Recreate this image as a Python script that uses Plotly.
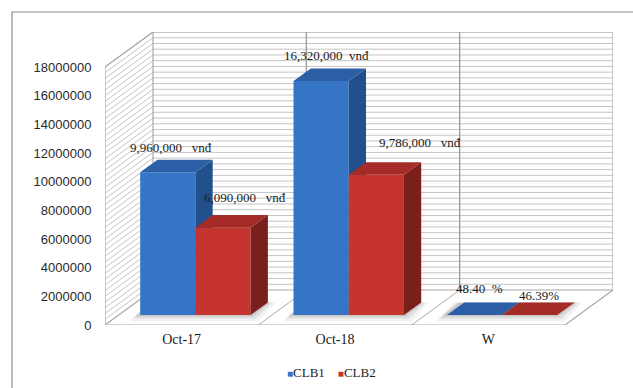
import plotly.graph_objects as go

# ---- data -------------------------------------------------------------
categories = ["Oct-17", "Oct-18", "W"]
series_names = ["CLB1", "CLB2"]
clb1 = [9960000, 16320000, 48.40]
clb2 = [6090000, 9786000, 46.39]
clb1_labels = ["9,960,000   vnđ", "16,320,000  vnđ", "48.40  %"]
clb2_labels = ["6,090,000   vnđ", "9,786,000   vnđ", "46.39%"]
y_tick_values = [0, 2000000, 4000000, 6000000, 8000000, 10000000,
                 12000000, 14000000, 16000000, 18000000]

# ---- 3-D box geometry (category units on x, value units on y) ---------
Y_TOP = 18000000
DX = 0.313            # depth offset of back wall, x
DY = 2.44e6           # depth offset of back wall, y
BAR_D0 = 0.286        # depth at which bar fronts sit
BAR_DEPTH = 0.36      # bar depth as a fraction of the box depth
BAR_W = 0.36
GRID_STEP = 400000
X0, X1 = -0.5, 2.5 + DX

# styles
BLUE = dict(front="#3674c6", side="#22508c", top="#2c5fa6")
RED = dict(front="#c5342f", side="#7a1f1c", top="#a52b27")
WALL_GRID = "#c4c4c4"
EDGE = "#a8a8a8"
LABEL_FONT = dict(family="Liberation Serif", size=13, color="#1a1a1a")
# label offsets (px) relative to the top-front centre of each bar
clb1_shift = [(3, 15), (5, 16), (5, 17)]
clb2_shift = [(22, 21), (44, 23), (9, 10)]

fig = go.Figure()

def add_poly(xs, ys, color, xa="x", ya="y", width=0, lcolor=None):
    fig.add_trace(go.Scatter(
        x=xs, y=ys, mode="lines", fill="toself", fillcolor=color,
        line=dict(width=width, color=lcolor or color),
        xaxis=xa, yaxis=ya, hoverinfo="skip", showlegend=False))

def add_lines(segs, color, width=1, xa="x", ya="y"):
    xs, ys = [], []
    for (xa0, ya0), (xa1, ya1) in segs:
        xs += [xa0, xa1, None]
        ys += [ya0, ya1, None]
    fig.add_trace(go.Scatter(
        x=xs, y=ys, mode="lines", line=dict(color=color, width=width),
        xaxis=xa, yaxis=ya, hoverinfo="skip", showlegend=False))

# walls and floor
add_poly([X0 + DX, X1, X1, X0 + DX], [DY, DY, Y_TOP + DY, Y_TOP + DY], "white")
add_poly([X0, X0, X0 + DX, X0 + DX], [0, Y_TOP, Y_TOP + DY, DY], "white")
add_poly([X0, 2.5, X1, X0 + DX], [0, 0, DY, DY], "white")

grid_vals = [k * GRID_STEP for k in range(1, int(Y_TOP / GRID_STEP) + 1)]
add_lines([((X0 + DX, v + DY), (X1, v + DY)) for v in grid_vals], WALL_GRID, 1)
add_lines([((X0, v), (X0 + DX, v + DY)) for v in grid_vals], WALL_GRID, 1)

bounds = [0.5, 1.5]
add_lines([((c + DX, DY), (c + DX, Y_TOP + DY)) for c in bounds], "#9a9a9a", 1.3)
add_lines([((c, 0), (c + DX, DY)) for c in bounds], EDGE, 1)

add_lines([
    ((X0, 0), (X0, Y_TOP)),
    ((X0, Y_TOP), (X0 + DX, Y_TOP + DY)),
    ((X0 + DX, DY), (X0 + DX, Y_TOP + DY)),
    ((X0 + DX, Y_TOP + DY), (X1, Y_TOP + DY)),
    ((X1, DY), (X1, Y_TOP + DY)),
    ((X0, 0), (2.5, 0)),
    ((2.5, 0), (X1, DY)),
    ((X0, 0), (X0 + DX, DY)),
    ((X0 + DX, DY), (X1, DY)),
], EDGE, 1.2)

# soft shadows under each bar pair (drawn on the base layer)
sx, sy = BAR_D0 * DX, BAR_D0 * DY
bdx, bdy = BAR_DEPTH * DX, BAR_DEPTH * DY
for i in range(len(categories)):
    for e, a in [(0.05, 0.05), (0.03, 0.07), (0.012, 0.10)]:
        xl, xr = i - BAR_W - e - 0.02 + sx, i + BAR_W + e + sx
        y0 = sy - e * 9e6
        add_poly([xl, xr, xr + bdx, xl + bdx], [y0, y0, sy + bdy, sy + bdy],
                 f"rgba(0,0,0,{a})")

# bars: front faces as real bars, side/top faces from the same values
layers = [("x2", "y2", "x3", "y3", clb1, series_names[0], BLUE, -BAR_W),
          ("x4", "y4", "x5", "y5", clb2, series_names[1], RED, 0.0)]
xcat = list(range(len(categories)))
for bxa, bya, fxa, fya, vals, name, col, off in layers:
    fig.add_trace(go.Bar(
        x=xcat, y=vals, offset=off, width=BAR_W, name=name,
        marker=dict(color=col["front"], line=dict(width=0)),
        customdata=categories, showlegend=False,
        hovertemplate="%{customdata}: %{y:,}<extra>" + name + "</extra>",
        xaxis=bxa, yaxis=bya))
    for i, v in zip(xcat, vals):
        xl = i + off
        xr = xl + BAR_W
        add_poly([xr, xr + bdx, xr + bdx, xr], [0, bdy, v + bdy, v],
                 col["side"], fxa, fya)
        add_poly([xl, xr, xr + bdx, xl + bdx], [v, v, v + bdy, v + bdy],
                 col["top"], fxa, fya)

# value labels
annotations = []
for vals, texts, shifts, off in [(clb1, clb1_labels, clb1_shift, -BAR_W),
                                 (clb2, clb2_labels, clb2_shift, 0.0)]:
    for i, (v, t, (xs, ys)) in enumerate(zip(vals, texts, shifts)):
        annotations.append(dict(
            x=i + off + BAR_W / 2, y=v, xref="x2", yref="y2",
            text=t.replace(" ", "\u00a0"), showarrow=False,
            xanchor="center", yanchor="bottom", xshift=xs, yshift=ys,
            font=LABEL_FONT))

# legend row: coloured square followed by the series name
legend_html = "\u00a0\u00a0\u00a0\u00a0".join(
    f"<span style='color:{c};font-size:10px'>■</span>{n}"
    for c, n in zip([BLUE["front"], RED["front"]], series_names))
annotations.append(dict(
    x=(331 - 105) / 508, y=(325 - 372) / 293, xref="paper", yref="paper",
    text=legend_html, showarrow=False, xanchor="center", yanchor="middle",
    font=dict(family="Liberation Serif", size=13, color="#222")))

# outer chart frame
shapes = [dict(type="rect", xref="paper", yref="paper",
               x0=(12 - 105) / 508, x1=(660 - 105) / 508,
               y0=(325 - 420) / 293, y1=(325 - 12) / 293,
               line=dict(color="#8c8c8c", width=1.2), fillcolor="rgba(0,0,0,0)",
               layer="below")]

hidden = dict(visible=False, showgrid=False, zeroline=False, fixedrange=True)
layout_axes = {}
for k in (2, 3, 4, 5):
    layout_axes[f"xaxis{k}"] = dict(hidden, overlaying="x",
                                    range=[X0 - sx, X1 - sx])
    layout_axes[f"yaxis{k}"] = dict(hidden, overlaying="y",
                                    range=[-sy, Y_TOP + DY - sy])

fig.update_layout(
    width=633, height=388,
    margin=dict(l=105, r=20, t=32, b=63, autoexpand=False),
    paper_bgcolor="white", plot_bgcolor="white",
    showlegend=False,
    xaxis=dict(range=[X0, X1], tickvals=xcat, ticktext=categories,
               showgrid=False, zeroline=False, showline=False,
               ticks="outside", ticklen=1, tickcolor="rgba(0,0,0,0)",
               tickfont=dict(family="Liberation Serif", size=14, color="#1a1a1a"),
               fixedrange=True),
    yaxis=dict(range=[0, Y_TOP + DY], tickvals=y_tick_values,
               ticktext=[str(v) for v in y_tick_values],
               showgrid=False, zeroline=False, showline=False,
               ticks="outside", ticklen=10, tickcolor="rgba(0,0,0,0)",
               tickfont=dict(family="Liberation Sans", size=13, color="#2a2a2a"),
               fixedrange=True),
    annotations=annotations,
    shapes=shapes,
    **layout_axes,
)

fig.write_html("out.html")
